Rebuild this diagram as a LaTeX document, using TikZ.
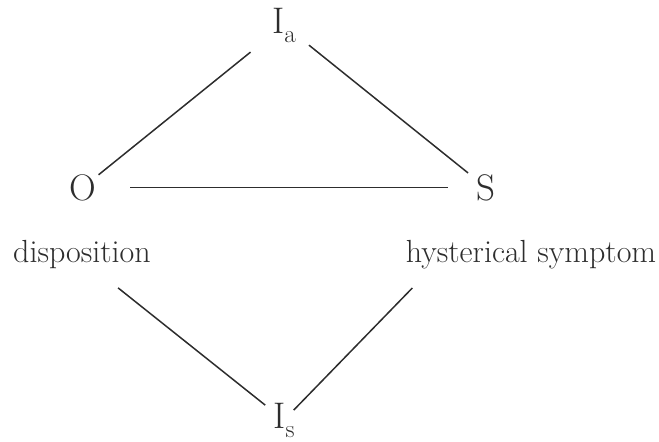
\documentclass[tikz,border=0pt]{standalone}
\usepackage{xcolor}
\usepackage{tikz}
\usetikzlibrary{calc}
\definecolor{inkgray}{RGB}{45, 45, 45}
\newcommand{\lowsub}[1]{\raisebox{-0.25em}{\fontsize{25}{30}\selectfont #1}}
\tikzstyle{letter} = [
    inner sep=2pt,
    anchor=base,
    text=inkgray,
    font=\fontsize{37}{44}\selectfont
]
\tikzstyle{caption} = [
    inner sep=2pt,
    anchor=base,
    text=inkgray,
    font=\fontsize{32}{38}\selectfont
]
\tikzstyle{link} = [
    line width=1.5pt,
    color=inkgray
]
\begin{document}
\begin{tikzpicture}[x=1pt, y=-1pt]
        \useasboundingbox (0,0) rectangle (659,442);
        % Terms
        \node[letter] (ia) at (284, 33) {I\lowsub{a}};
        \node[letter] (o) at (83, 200) {O};
        \node[letter] (s) at (486, 200) {S};
        \node[caption] (disp) at (82, 262) {disposition};
        \node[caption] (sym) at (531, 262) {hysterical symptom};
        \node[letter] (is) at (284, 428) {I\lowsub{s}};

        % Lines
        \draw[link, shorten <=43pt, shorten >=20pt] (ia.center) -- (o.center);
        \draw[link, shorten <=32pt, shorten >=23pt] (ia.center) -- (s.center);
        \draw[link, shorten <=47pt, shorten >=38pt] (o.center) -- (s.center);
        \draw[link, shorten <=28pt, shorten >=24pt] ($(disp.south)!0.2!(disp.south east)$) -- (is.center);
        \draw[link, shorten <=24pt, shorten >=14pt] ($(sym.south west)!0.1!(sym.south east)$) -- (is.center);
    \end{tikzpicture}
\end{document}
